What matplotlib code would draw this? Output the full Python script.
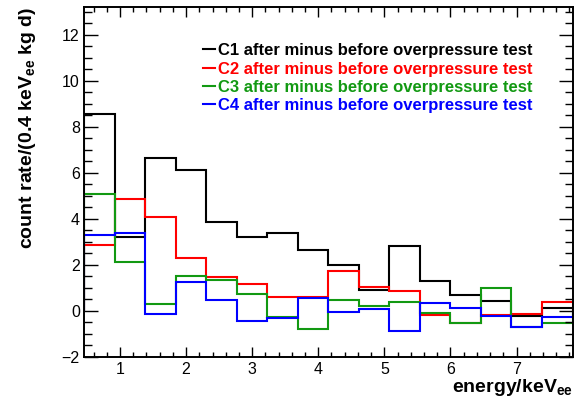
import numpy as np
import matplotlib
matplotlib.use("Agg")
import matplotlib.pyplot as plt
from matplotlib.ticker import MultipleLocator

plt.rcParams['font.family'] = ['Liberation Sans', 'DejaVu Sans']
plt.rcParams['mathtext.fontset'] = 'custom'
plt.rcParams['mathtext.rm'] = 'Liberation Sans'
plt.rcParams['mathtext.bf'] = 'Liberation Sans:bold'

# 16 bins, energy in keVee
edges = 0.455 + 0.462 * np.arange(17)

c1 = [8.55, 3.22, 6.65, 6.13, 3.87, 3.22, 3.38, 2.65, 2.0, 0.9, 2.83, 1.3, 0.68, 0.42, -0.22, 0.13]
c2 = [2.86, 4.86, 4.06, 2.30, 1.45, 1.17, 0.60, 0.61, 1.74, 1.04, 0.86, -0.19, -0.52, -0.20, -0.14, 0.37]
c3 = [5.07, 2.12, 0.28, 1.52, 1.32, 0.74, -0.26, -0.80, 0.47, 0.22, 0.39, -0.11, -0.55, 1.0, -0.70, -0.55]
c4 = [3.30, 3.36, -0.13, 1.25, 0.47, -0.43, -0.30, 0.57, -0.04, 0.06, -0.87, 0.32, 0.12, -0.22, -0.72, -0.26]

series = [c1, c2, c3, c4]
names = ["C1", "C2", "C3", "C4"]
colors = ["black", "#ff0000", "#129912", "#0000ff"]

fig = plt.figure(figsize=(5.79, 4.09), dpi=100)
ax = fig.add_axes([84/579, 1 - 356.7/409, 488.5/579, (356.7 - 7)/409])

for vals, name, col in zip(series, names, colors):
    ax.stairs(vals, edges, baseline=0, color=col, lw=1.5,
              label=name + " after minus before overpressure test")

ax.set_xlim(edges[0], edges[-1])
ax.set_ylim(-2, 13.2)

ax.xaxis.set_major_locator(MultipleLocator(1))
ax.xaxis.set_minor_locator(MultipleLocator(0.2))
ax.yaxis.set_major_locator(MultipleLocator(2))
ax.yaxis.set_minor_locator(MultipleLocator(0.5))
ax.tick_params(which='both', direction='in', top=True, right=True, labelsize=11.5, width=1)
ax.tick_params(axis='y', which='major', length=10, pad=3)
ax.tick_params(axis='y', which='minor', length=5.5)
ax.tick_params(axis='x', which='major', length=7, pad=4)
ax.tick_params(axis='x', which='minor', length=3.5)
for s in ax.spines.values():
    s.set_linewidth(1.4)

ax.set_xlabel(r"energy/keV$_{\mathbf{ee}}$", fontsize=14, fontweight='bold', loc='right')
ax.xaxis.set_label_coords(1.0, -0.058)
ax.set_ylabel(r"count rate/(0.4 keV$_{\mathbf{ee}}$ kg d)", fontsize=14, fontweight='bold', loc='top')
ax.yaxis.set_label_coords(-0.095, 1.0)

leg = ax.legend(loc='upper left', bbox_to_anchor=(195/579, 1 - 35/409),
                bbox_transform=fig.transFigure, frameon=False, borderpad=0,
                handlelength=0.7, handletextpad=0.2, labelspacing=0.2,
                prop={'size': 12, 'weight': 'bold'}, labelcolor='linecolor')

fig.savefig("out.png", dpi=100)
